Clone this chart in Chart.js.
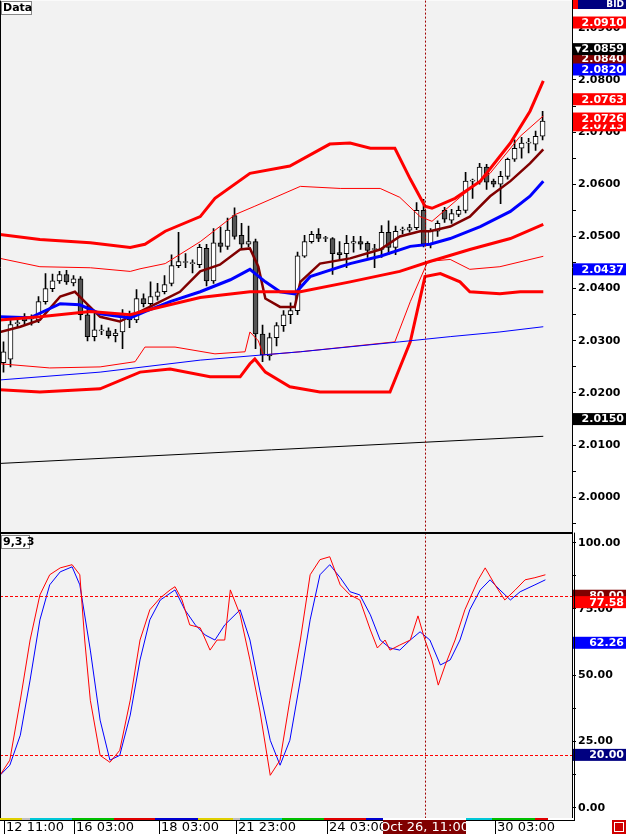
<!DOCTYPE html>
<html><head><meta charset="utf-8">
<script src="https://cdn.jsdelivr.net/npm/chart.js@4"></script>
<style>
body{margin:0;background:#fff;width:626px;height:834px;overflow:hidden;position:relative;font-family:"DejaVu Sans",sans-serif}
#w1{position:absolute;left:0;top:-8px;width:626px;height:551px}
#w2{position:absolute;left:0;top:524px;width:626px;height:310px}
#sep{position:absolute;left:0;top:532px;width:572px;height:2px;background:#000;z-index:5}
</style></head><body>
<div id="w1"><canvas id="c1"></canvas></div>
<div id="w2"><canvas id="c2"></canvas></div>
<div id="sep"></div>
<script>
const openP=[2.0258,2.0265,2.0333,2.0346,2.0342,2.0340,2.0375,2.0400,2.0415,2.0427,2.0411,2.0419,2.0350,2.0308,2.0319,2.0319,2.0310,2.0317,2.0350,2.0340,2.0381,2.0371,2.0385,2.0394,2.0410,2.0444,2.0450,2.0448,2.0446,2.0477,2.0415,2.0488,2.0481,2.0540,2.0502,2.0485,2.0490,2.0313,2.0271,2.0306,2.0329,2.0350,2.0358,2.0462,2.0490,2.0504,2.0496,2.0496,2.0469,2.0467,2.0487,2.0490,2.0487,2.0475,2.0475,2.0508,2.0479,2.0512,2.0512,2.0517,2.0550,2.0485,2.0510,2.0550,2.0531,2.0542,2.0550,2.0606,2.0604,2.0633,2.0606,2.0600,2.0615,2.0648,2.0669,2.0679,2.0677,2.0692];
const closeP=[2.0279,2.0331,2.0333,2.0338,2.0342,2.0375,2.0400,2.0415,2.0427,2.0413,2.0419,2.0350,2.0308,2.0321,2.0319,2.0310,2.0315,2.0350,2.0340,2.0381,2.0371,2.0385,2.0394,2.0408,2.0444,2.0452,2.0450,2.0448,2.0479,2.0415,2.0488,2.0481,2.0512,2.0500,2.0485,2.0490,2.0313,2.0273,2.0306,2.0329,2.0350,2.0358,2.0463,2.0490,2.0504,2.0496,2.0496,2.0467,2.0465,2.0487,2.0490,2.0485,2.0473,2.0475,2.0508,2.0479,2.0510,2.0512,2.0517,2.0550,2.0485,2.0510,2.0525,2.0533,2.0544,2.0550,2.0606,2.0606,2.0633,2.0604,2.0600,2.0615,2.0648,2.0669,2.0679,2.0679,2.0692,2.0721];
const highP=[2.0298,2.0340,2.0345,2.0352,2.0350,2.0385,2.0429,2.0428,2.0433,2.0435,2.0425,2.0423,2.0370,2.0355,2.0330,2.0325,2.0322,2.0360,2.0357,2.0398,2.0390,2.0413,2.0410,2.0425,2.0465,2.0508,2.0467,2.0455,2.0485,2.0485,2.0515,2.0518,2.0535,2.0555,2.0525,2.0520,2.0495,2.0330,2.0315,2.0335,2.0358,2.0373,2.0470,2.0502,2.0510,2.0515,2.0500,2.0498,2.0490,2.0502,2.0500,2.0500,2.0490,2.0485,2.0521,2.0530,2.0520,2.0518,2.0523,2.0565,2.0571,2.0515,2.0530,2.0556,2.0552,2.0558,2.0623,2.0610,2.0640,2.0638,2.0610,2.0625,2.0650,2.0685,2.0690,2.0688,2.0702,2.0740];
const lowP=[2.0240,2.0250,2.0325,2.0330,2.0330,2.0335,2.0370,2.0394,2.0410,2.0408,2.0405,2.0340,2.0300,2.0300,2.0312,2.0305,2.0298,2.0285,2.0325,2.0335,2.0365,2.0365,2.0378,2.0390,2.0405,2.0440,2.0440,2.0430,2.0440,2.0405,2.0410,2.0470,2.0475,2.0495,2.0475,2.0480,2.0285,2.0260,2.0263,2.0290,2.0318,2.0333,2.0350,2.0460,2.0487,2.0490,2.0490,2.0427,2.0455,2.0440,2.0470,2.0475,2.0460,2.0440,2.0460,2.0465,2.0465,2.0505,2.0508,2.0513,2.0480,2.0478,2.0500,2.0527,2.0525,2.0538,2.0545,2.0573,2.0600,2.0590,2.0595,2.0563,2.0610,2.0644,2.0650,2.0660,2.0665,2.0685];
const bbUpThick=[[-0.5,2.0504],[5.2,2.0494],[12.4,2.0488],[18.1,2.0479],[20.2,2.0485],[23.1,2.0510],[28.1,2.0538],[30.2,2.0573],[35.2,2.0621],[40.9,2.0635],[46.6,2.0677],[49.5,2.0679],[52.4,2.0669],[55.9,2.0669],[58.1,2.0610],[60.2,2.0558],[61.2,2.0554],[64.5,2.0573],[68.1,2.0606],[72.4,2.0679],[75.2,2.0740],[77.1,2.0798]];
const bbUpThin=[[-0.5,2.0458],[5.2,2.0442],[12.4,2.0440],[18.1,2.0433],[19.5,2.0438],[23.1,2.0448],[28.1,2.0490],[33.1,2.0542],[35.9,2.0558],[42.4,2.0596],[48.1,2.0592],[53.8,2.0592],[56.6,2.0575],[59.5,2.0538],[61.2,2.0529],[65.2,2.0575],[69.5,2.0621],[73.8,2.0692],[77.1,2.0731]];
const bbMid=[[-0.5,2.0340],[5.2,2.0346],[12.4,2.0356],[18.1,2.0350],[20.9,2.0360],[28.1,2.0383],[35.2,2.0394],[42.4,2.0394],[49.5,2.0413],[56.6,2.0433],[60.9,2.0452],[66.6,2.0475],[72.4,2.0496],[77.1,2.0523]];
const bbLowThin=[[-0.5,2.0256],[6.6,2.0248],[13.8,2.0250],[18.8,2.0260],[20.2,2.0288],[24.5,2.0288],[30.2,2.0275],[34.5,2.0279],[35.2,2.0317],[36.4,2.0300],[37.1,2.0273],[42.4,2.0279],[55.9,2.0298],[58.1,2.0375],[60.6,2.0452],[63.8,2.0456],[66.6,2.0437],[70.9,2.0442],[77.1,2.0462]];
const bbLowThick=[[-0.5,2.0206],[5.2,2.0202],[13.8,2.0208],[19.5,2.0240],[23.8,2.0246],[29.5,2.0231],[33.8,2.0231],[35.2,2.0256],[35.9,2.0265],[37.4,2.0240],[40.9,2.0212],[45.2,2.0202],[55.2,2.0202],[58.1,2.0298],[60.2,2.0423],[62.4,2.0429],[65.2,2.0413],[66.6,2.0394],[70.9,2.0390],[73.8,2.0394],[77.1,2.0394]];
const emaFast=[[-0.5,2.0317],[2.4,2.0327],[5.2,2.0340],[8.1,2.0385],[10.2,2.0394],[11.6,2.0375],[13.8,2.0346],[16.6,2.0337],[19.5,2.0356],[22.4,2.0375],[25.2,2.0394],[28.1,2.0433],[30.9,2.0446],[33.8,2.0475],[35.2,2.0477],[36.4,2.0442],[37.4,2.0381],[39.5,2.0365],[41.6,2.0365],[42.4,2.0413],[45.2,2.0448],[49.5,2.0458],[53.8,2.0475],[56.6,2.0500],[59.5,2.0510],[60.9,2.0510],[63.8,2.0519],[66.6,2.0538],[69.5,2.0577],[72.4,2.0606],[75.2,2.0640],[77.1,2.0667]];
const maBlue=[[-0.5,2.0346],[3.8,2.0344],[8.1,2.0371],[10.9,2.0369],[13.8,2.0352],[18.1,2.0344],[20.2,2.0356],[23.8,2.0375],[28.1,2.0394],[32.4,2.0417],[35.2,2.0437],[37.4,2.0413],[39.5,2.0394],[41.6,2.0390],[43.8,2.0423],[49.5,2.0448],[53.8,2.0462],[58.1,2.0481],[60.9,2.0485],[63.8,2.0496],[68.1,2.0519],[72.4,2.0548],[75.2,2.0577],[77.1,2.0606]];
const maBlueLong=[[-0.5,2.0225],[13.8,2.0240],[28.1,2.0263],[42.4,2.0279],[56.6,2.0298],[63.8,2.0308],[70.9,2.0317],[77.1,2.0327]];
const maBlack=[[-0.5,2.0065],[77.1,2.0117]];
const stochK=[[-0.5,12.3],[0.9,18.0],[2.4,40.6],[3.8,63.3],[5.2,80.3],[6.6,87.9],[8.1,90.5],[9.8,91.7],[10.9,87.9],[11.6,63.3],[12.4,40.6],[13.8,19.8],[15.2,17.2],[16.6,21.7],[18.1,40.6],[19.5,63.3],[20.9,74.7],[22.4,79.2],[23.8,82.2],[24.5,83.4],[25.5,78.4],[26.6,69.0],[28.1,67.9],[29.5,59.5],[30.5,63.3],[31.6,63.3],[32.4,82.2],[33.8,72.8],[35.2,55.8],[36.6,36.9],[38.1,12.3],[39.5,18.0],[40.9,40.6],[42.4,63.3],[43.8,87.9],[45.2,93.6],[46.6,94.7],[48.1,84.1],[49.5,80.3],[50.9,78.4],[52.4,67.1],[53.4,60.3],[54.5,63.3],[55.2,59.5],[56.6,61.4],[58.1,63.3],[59.2,72.4],[60.2,63.3],[61.2,55.8],[62.1,46.3],[63.1,53.9],[64.5,63.3],[65.9,74.7],[67.8,86.0],[68.8,90.5],[70.2,84.1],[71.6,78.4],[73.1,82.2],[74.5,86.0],[75.9,86.8],[77.4,87.9]];
const stochD=[[-0.5,12.3],[0.9,16.1],[2.4,27.4],[3.8,48.2],[5.2,70.9],[6.6,84.1],[8.1,89.0],[9.8,90.9],[10.9,84.1],[12.4,59.5],[13.8,33.1],[15.2,18.0],[16.6,19.8],[18.1,35.0],[19.5,55.8],[20.9,70.9],[22.4,78.4],[24.5,82.2],[25.9,74.7],[27.4,69.0],[28.8,65.2],[30.2,63.3],[31.6,69.0],[33.8,74.7],[35.2,63.3],[36.6,44.4],[38.1,25.5],[39.5,16.1],[40.9,25.5],[42.4,48.2],[43.8,70.9],[45.2,87.9],[46.6,91.7],[48.1,86.8],[49.5,81.5],[50.9,80.3],[52.4,72.8],[53.8,63.3],[55.2,60.3],[56.6,59.5],[58.1,63.3],[59.5,66.4],[60.9,63.3],[62.4,53.9],[63.8,55.8],[65.2,63.3],[66.6,74.7],[68.1,82.2],[69.5,86.0],[70.9,82.2],[72.4,78.4],[73.8,81.5],[75.9,84.1],[77.4,86.0]];
const priceTicks=[2.0000,2.0100,2.0200,2.0300,2.0400,2.0500,2.0600,2.0700,2.0800,2.0900];
const stochTicks=[0,25,50,75,100];
const priceTags=[[2.0910,'#ff0000','2.0910'],[2.0840,'#800000','2.0840'],[2.0859,'#000000','2.0859'],[2.0820,'#0000ff','2.0820'],[2.0763,'#ff0000','2.0763'],[2.0713,'#ff0000','2.0713'],[2.0726,'#ff0000','2.0726'],[2.0437,'#0000ff','2.0437'],[2.0150,'#000000','2.0150']];
const stochTags=[[80,'#800000','80.00'],[77.58,'#ff0000','77.58'],[62.26,'#0000ff','62.26'],[20,'#000080','20.00']];
const timeLabels=[[4,'12 11:00'],[74,'16 03:00'],[159,'18 03:00'],[236,'21 23:00'],[327,'24 03:00'],[495,'30 03:00']];
const cursorIdx=60.2;
const XMIN=-0.5, XMAX=81.2;

const FONT='bold 11px "DejaVu Sans"';
const bgPlug={id:'bg',beforeDraw(c){const a=c.chartArea,x=c.ctx;x.save();x.fillStyle='#f2f2f2';x.fillRect(a.left,a.top,a.right-a.left,a.bottom-a.top);x.restore();}};
function tagDraw(c,tags){const x=c.ctx,y=c.scales.y;x.save();x.font=FONT;x.textAlign='right';x.textBaseline='middle';
 for(const t of tags){const p=y.getPixelForValue(t[0]);x.fillStyle=t[1];x.fillRect(573,p-6,53,12);x.fillStyle='#fff';x.fillText(t[2],624,p+0.5);}x.restore();}
function cursor(c){const x=c.ctx,a=c.chartArea,px=Math.round(c.scales.x.getPixelForValue(cursorIdx));x.save();x.strokeStyle='#a00000';x.setLineDash([2,2]);x.lineWidth=1;x.beginPath();x.moveTo(px+0.5,a.top);x.lineTo(px+0.5,a.bottom);x.stroke();x.restore();}
function boxLabel(c,t,w,top){const x=c.ctx;x.save();x.fillStyle='#fff';x.fillRect(1,top+1,w,13);x.strokeStyle='#888';x.strokeRect(1.5,top+1.5,w,13);x.fillStyle='#000';x.font=FONT;x.textBaseline='middle';x.fillText(t,3,top+8);x.restore();}
const yAxisBase={position:'right',afterFit(s){s.width=54;},grid:{drawOnChartArea:false,color:'#000',tickLength:4},border:{color:'#000',width:1},ticks:{color:'#000',font:{family:'DejaVu Sans',weight:'bold',size:11},padding:2}};
const lineDs=(d,col,w)=>({type:'line',data:d,borderColor:col,borderWidth:w,pointRadius:0,tension:0,fill:false,order:1});

const up=openP.map((o,i)=>closeP[i]>=o);
new Chart(document.getElementById('c1'),{type:'bar',
 data:{datasets:[
  lineDs(maBlack,'#000',1),lineDs(maBlueLong,'#0000ff',1),
  lineDs(bbUpThick,'#ff0000',3),lineDs(bbUpThin,'#ff0000',1),lineDs(bbMid,'#ff0000',3),lineDs(bbLowThin,'#ff0000',1),lineDs(bbLowThick,'#ff0000',3),
  lineDs(maBlue,'#0000ff',3),lineDs(emaFast,'#800000',2.5),
  {type:'bar',data:openP.map((o,i)=>({x:i,y:[lowP[i],highP[i]]})),backgroundColor:'#000',barThickness:1,grouped:false,order:3},
  {type:'bar',data:openP.map((o,i)=>({x:i,y:[o,closeP[i]]})),backgroundColor:up.map(u=>u?'#ffffff':'#555555'),borderColor:'#000',borderWidth:1,borderSkipped:false,barThickness:5,minBarLength:1,grouped:false,order:2}
 ]},
 options:{responsive:true,maintainAspectRatio:false,animation:false,devicePixelRatio:1,layout:{padding:0,autoPadding:false},
  plugins:{legend:{display:false},tooltip:{enabled:false}},
  scales:{x:{type:'linear',min:XMIN,max:XMAX,display:false,offset:false},
   y:{...yAxisBase,min:1.9929,max:2.0952,afterBuildTicks(s){const t=[];for(let v=1.995;v<2.0951;v+=0.005)t.push({value:+v.toFixed(4)});s.ticks=t;},
    ticks:{...yAxisBase.ticks,callback:v=>priceTicks.some(p=>Math.abs(p-v)<1e-6)?v.toFixed(4):''}}}},
 plugins:[bgPlug,{id:'deco',afterDraw(c){const a=c.chartArea;cursor(c);tagDraw(c,priceTags);boxLabel(c,'Data',30,8);const x=c.ctx;x.save();
   x.fillStyle='#fff';x.fillRect(572,0,54,8);
   x.fillStyle='#ff0000';x.fillRect(573,8,5,9);x.fillStyle='#000080';x.fillRect(578,8,48,9);x.fillStyle='#fff';x.font='bold 9px "DejaVu Sans"';x.textAlign='right';x.textBaseline='middle';x.fillText('BID',624,12.5);
   x.fillStyle='#fff';x.font='8px "DejaVu Sans"';x.textAlign='left';x.fillText('▼',575,c.scales.y.getPixelForValue(2.0859)+0.5);
   x.strokeStyle='#000';x.lineWidth=1;x.beginPath();x.moveTo(0.5,a.top);x.lineTo(0.5,a.bottom);x.stroke();x.restore();}}]
});

new Chart(document.getElementById('c2'),{type:'line',
 data:{datasets:[lineDs(stochK,'#ff0000',1),lineDs(stochD,'#0000ff',1)]},
 options:{responsive:true,maintainAspectRatio:false,animation:false,devicePixelRatio:1,layout:{padding:{bottom:16},autoPadding:false},
  plugins:{legend:{display:false},tooltip:{enabled:false}},
  scales:{x:{type:'linear',min:XMIN,max:XMAX,display:false,offset:false},
   y:{...yAxisBase,min:-3.8,max:103.8,afterBuildTicks(s){const t=[];for(let v=0;v<=100;v+=12.5)t.push({value:v});s.ticks=t;},
    ticks:{...yAxisBase.ticks,callback:v=>stochTicks.includes(v)?v.toFixed(2):''}}}},
 plugins:[bgPlug,{id:'deco2',afterDraw(c){const x=c.ctx,a=c.chartArea,y=c.scales.y;cursor(c);
   x.save();x.strokeStyle='#ff0000';x.setLineDash([3,2]);x.lineWidth=1;
   for(const v of [80,20]){const p=Math.round(y.getPixelForValue(v))+0.5;x.beginPath();x.moveTo(a.left,p);x.lineTo(a.right,p);x.stroke();}
   x.restore();tagDraw(c,stochTags);boxLabel(c,'9,3,3',28,10);
   x.save();const b=a.bottom;
   x.fillStyle='#fff';x.fillRect(0,b,626,30);
   const segs=[[0,22,'#e0d000'],[22,30,'#c0c0c0'],[30,72,'#00c8d8'],[72,114,'#00c000'],[114,155,'#e00000'],[155,198,'#0000d0'],[198,233,'#e0d000'],[233,240,'#c0c0c0'],[240,282,'#00c8d8'],[282,324,'#00c000'],[324,366,'#e00000'],[366,383,'#0000d0'],[466,492,'#00c8d8'],[492,535,'#00c000'],[535,548,'#e00000'],[548,572,'#ffffff']];
   for(const s of segs){x.fillStyle=s[2];x.fillRect(s[0],b,s[1]-s[0],2);}
   x.fillStyle='#000';x.fillRect(0,b+2,575,1);x.fillRect(574,a.top,1,b-a.top+3);
   x.font='13px "DejaVu Sans"';x.textBaseline='middle';
   for(const t of timeLabels){x.fillStyle='#000';x.fillRect(t[0],b+2,1,14);x.fillText(t[1],t[0]+2,b+9.5);}
   x.fillStyle='#800000';x.fillRect(383,b+2,83,15);x.fillStyle='#fff';x.textAlign='center';x.fillText('Oct 26, 11:00',424.5,b+9.5);
   x.fillStyle='#d00000';x.fillRect(612,b+2,14,14);x.strokeStyle='#fff';x.strokeRect(614.5,b+4.5,9,9);
   x.strokeStyle='#000';x.beginPath();x.moveTo(0.5,a.top);x.lineTo(0.5,b);x.stroke();
   x.restore();}}]
});
</script></body></html>
